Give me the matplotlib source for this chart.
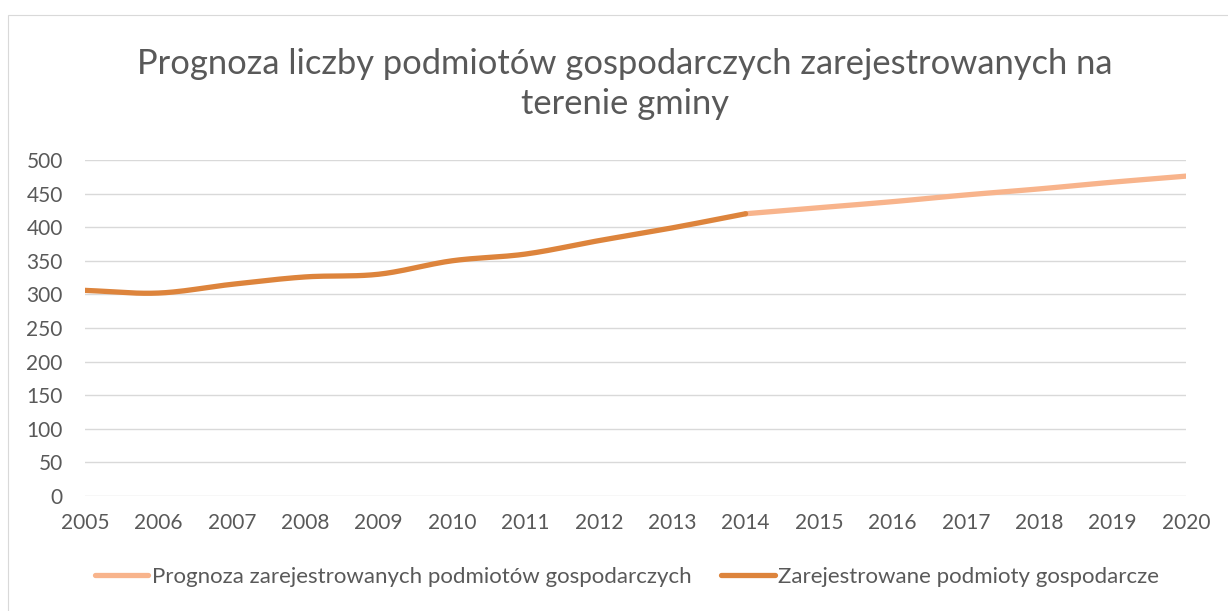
import numpy as np
import matplotlib
matplotlib.use("Agg")
import matplotlib.pyplot as plt
from matplotlib.patches import Rectangle

# dane
lata = [2005, 2006, 2007, 2008, 2009, 2010, 2011, 2012, 2013, 2014]
podmioty = [306, 302, 315, 326, 330, 350, 360, 380, 399, 420]
lata_prognoza = [2014, 2015, 2016, 2017, 2018, 2019, 2020]
prognoza = [420, 429, 438, 448, 457, 467, 476]

tytul = "Prognoza liczby podmiotów gospodarczych zarejestrowanych na\nterenie gminy"
etykieta_prognoza = "Prognoza zarejestrowanych podmiotów gospodarczych"
etykieta_dane = "Zarejestrowane podmioty gospodarcze"


# wygladzanie linii jak w Excelu (Catmull-Rom)
def smooth(x, y, n=20):
    x = np.asarray(x, float)
    y = np.asarray(y, float)
    px = np.concatenate([[2 * x[0] - x[1]], x, [2 * x[-1] - x[-2]]])
    py = np.concatenate([[2 * y[0] - y[1]], y, [2 * y[-1] - y[-2]]])
    xs, ys = [], []
    t = np.linspace(0, 1, n, endpoint=False)
    for i in range(1, len(px) - 2):
        for p, out in ((px, xs), (py, ys)):
            p0, p1, p2, p3 = p[i - 1], p[i], p[i + 1], p[i + 2]
            out.extend(0.5 * ((2 * p1) + (-p0 + p2) * t
                              + (2 * p0 - 5 * p1 + 4 * p2 - p3) * t ** 2
                              + (-p0 + 3 * p1 - 3 * p2 + p3) * t ** 3))
    xs.append(x[-1])
    ys.append(y[-1])
    return np.array(xs), np.array(ys)


plt.rcParams['font.family'] = ['Lato', 'DejaVu Sans']
szary = '#595959'

fig = plt.figure(figsize=(12.28, 6.11), dpi=100)
fig.patches.append(Rectangle((8 / 1228, -0.01), 1.0, 1 - 15 / 611 + 0.01,
                             transform=fig.transFigure, fill=False,
                             edgecolor='#d9d9d9', linewidth=0.8))

ax = fig.add_axes([85 / 1228, 1 - 496 / 611, (1186 - 85) / 1228, (496 - 160) / 611])

xs, ys = smooth(lata_prognoza, prognoza)
ax.plot(xs, ys, color='#F8B48C', linewidth=3.8, solid_capstyle='round',
        label=etykieta_prognoza)
xs, ys = smooth(lata, podmioty)
ax.plot(xs, ys, color='#DD843C', linewidth=3.8, solid_capstyle='round',
        label=etykieta_dane)

ax.set_xlim(2005, 2020)
ax.set_ylim(0, 500)
ax.set_xticks(range(2005, 2021))
ax.set_yticks(range(0, 501, 50))
ax.grid(axis='y', color='#d9d9d9', linewidth=1)
ax.set_axisbelow(True)
for s in ax.spines.values():
    s.set_visible(False)
ax.tick_params(length=0, labelsize=15, colors=szary)
ax.tick_params(axis='y', pad=16)
ax.tick_params(axis='x', pad=12)

fig.text(625 / 1228, 1 - 84 / 611, tytul, ha='center', va='center', fontsize=24.8,
         color=szary, linespacing=1.27)

fig.legend(loc='center', bbox_to_anchor=(627 / 1228, 1 - 577 / 611), ncol=2,
           frameon=False, fontsize=16, labelcolor=szary,
           handlelength=2.4, handletextpad=0.15, columnspacing=1.35)

fig.savefig('out.png', dpi=100, facecolor='white')
